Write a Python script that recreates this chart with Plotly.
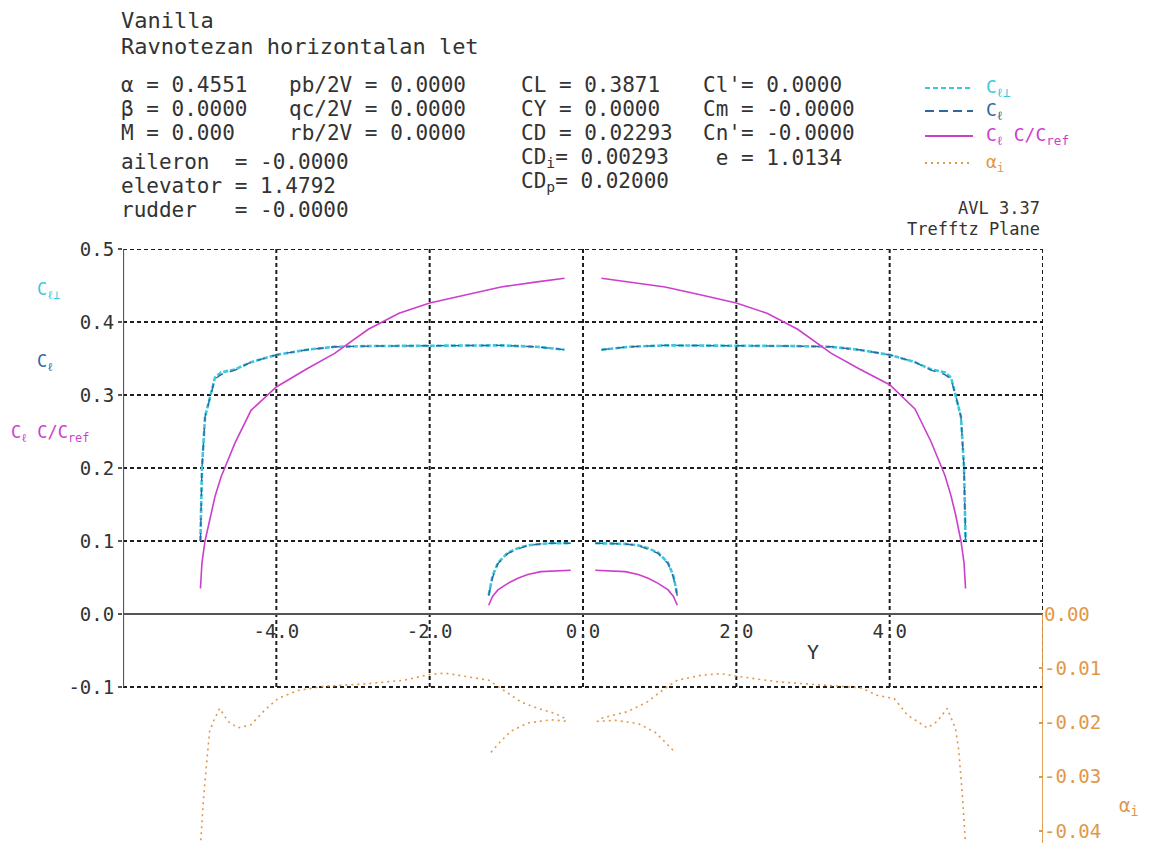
"""AVL Trefftz plane plot: spanwise loading of wing and horizontal tail."""

import plotly.graph_objects as go

# --- data (spanwise station Y, values) --------------------------------------
WING_Y_LEFT = [-4.99, -4.97, -4.93, -4.86, -4.80, -4.72, -4.54, -4.33, -4.00,
               -3.60, -3.24, -2.80, -2.40, -2.00, -1.50, -1.07, -0.60, -0.24]
WING_Y_RIGHT = [0.24, 0.60, 1.07, 1.50, 2.00, 2.40, 2.80, 3.24, 3.60,
                4.00, 4.33, 4.54, 4.72, 4.80, 4.86, 4.93, 4.97, 4.99]
TAIL_Y_LEFT = [-1.23, -1.18, -1.11, -0.98, -0.85, -0.72, -0.55, -0.42, -0.16]
TAIL_Y_RIGHT = [0.16, 0.42, 0.55, 0.72, 0.85, 0.98, 1.11, 1.18, 1.23]

CL_PERP_WING_LEFT = [0.100, 0.200, 0.270, 0.300, 0.324, 0.331, 0.335, 0.345, 0.355,
                     0.362, 0.366, 0.367, 0.367, 0.368, 0.368, 0.368, 0.366, 0.362]
CL_PERP_WING_RIGHT = [0.362, 0.366, 0.368, 0.368, 0.368, 0.367, 0.367, 0.366, 0.362,
                      0.355, 0.345, 0.335, 0.331, 0.324, 0.300, 0.270, 0.200, 0.100]
CL_WING_LEFT = [0.100, 0.200, 0.270, 0.300, 0.322, 0.328, 0.334, 0.345, 0.355,
                0.362, 0.366, 0.367, 0.367, 0.368, 0.368, 0.368, 0.366, 0.362]
CL_WING_RIGHT = [0.362, 0.366, 0.368, 0.368, 0.368, 0.367, 0.367, 0.366, 0.362,
                 0.355, 0.345, 0.334, 0.328, 0.322, 0.300, 0.270, 0.200, 0.100]
CCREF_WING_LEFT = [0.035, 0.070, 0.100, 0.135, 0.161, 0.188, 0.234, 0.279, 0.311,
                   0.336, 0.357, 0.390, 0.412, 0.426, 0.438, 0.448, 0.455, 0.460]
CCREF_WING_RIGHT = [0.460, 0.455, 0.448, 0.438, 0.426, 0.412, 0.390, 0.357, 0.336,
                    0.314, 0.281, 0.236, 0.190, 0.162, 0.136, 0.100, 0.070, 0.035]

CL_PERP_TAIL_LEFT = [0.026, 0.052, 0.070, 0.084, 0.090, 0.094, 0.096, 0.097, 0.097]
CL_PERP_TAIL_RIGHT = [0.097, 0.097, 0.096, 0.094, 0.090, 0.084, 0.070, 0.052, 0.026]
CL_TAIL_LEFT = [0.025, 0.050, 0.069, 0.083, 0.089, 0.094, 0.096, 0.097, 0.097]
CL_TAIL_RIGHT = [0.097, 0.097, 0.096, 0.094, 0.089, 0.083, 0.069, 0.050, 0.025]
CCREF_TAIL_LEFT = [0.012, 0.024, 0.033, 0.042, 0.049, 0.054, 0.058, 0.059, 0.060]
CCREF_TAIL_RIGHT = [0.060, 0.059, 0.058, 0.054, 0.049, 0.042, 0.033, 0.024, 0.012]

AI_WING_Y_LEFT = [-5.00, -4.95, -4.91, -4.87, -4.82, -4.74, -4.63, -4.50, -4.33,
                  -4.15, -3.98, -3.72, -3.37, -2.85, -2.33, -2.02, -1.80, -1.50,
                  -1.23, -1.03, -0.81, -0.59, -0.37, -0.24]
AI_WING_LEFT = [-0.0450, -0.0340, -0.0276, -0.0216, -0.0198, -0.0174, -0.0198, -0.0210,
                -0.0204, -0.0177, -0.0156, -0.0141, -0.0133, -0.0129, -0.0122, -0.0112,
                -0.0109, -0.0116, -0.0122, -0.0141, -0.0162, -0.0174, -0.0183, -0.0192]
AI_WING_Y_RIGHT = [0.24, 0.58, 0.84, 1.06, 1.23, 1.54, 1.80, 2.02, 2.54, 3.19, 3.62,
                   3.84, 4.06, 4.23, 4.49, 4.62, 4.75, 4.82, 4.86, 4.90, 4.95, 5.00]
AI_WING_RIGHT = [-0.0192, -0.0180, -0.0162, -0.0138, -0.0122, -0.0113, -0.0110, -0.0115,
                 -0.0125, -0.0131, -0.0136, -0.0150, -0.0156, -0.0186, -0.0210, -0.0198,
                 -0.0174, -0.0198, -0.0212, -0.0250, -0.0337, -0.0450]
AI_TAIL_Y_LEFT = [-1.20, -1.07, -0.94, -0.72, -0.42, -0.18]
AI_TAIL_LEFT = [-0.0255, -0.0234, -0.0216, -0.0201, -0.0195, -0.0198]
AI_TAIL_Y_RIGHT = [0.18, 0.42, 0.72, 0.94, 1.07, 1.20]
AI_TAIL_RIGHT = [-0.0198, -0.0196, -0.0202, -0.0218, -0.0236, -0.0255]

X_TICKS = [-4.0, -2.0, 0.0, 2.0, 4.0]
X_GRID = [-4.0, -2.0, 0.0, 2.0, 4.0, 6.0]
Y_TICKS = [0.5, 0.4, 0.3, 0.2, 0.1, 0.0, -0.1]
AI_TICKS = [0.0, -0.01, -0.02, -0.03, -0.04]

HEADER_LEFT = ["α = 0.4551", "β = 0.0000", "M = 0.000"]
HEADER_RATES = ["pb/2V = 0.0000", "qc/2V = 0.0000", "rb/2V = 0.0000"]
HEADER_CONTROLS = ["aileron  = -0.0000", "elevator = 1.4792", "rudder   = -0.0000"]
HEADER_FORCES = ["CL = 0.3871", "CY = 0.0000", "CD = 0.02293",
                 "CD<sub>i</sub>= 0.00293", "CD<sub>p</sub>= 0.02000"]
HEADER_MOMENTS = ["Cl'= 0.0000", "Cm = -0.0000", "Cn'= -0.0000", " e = 1.0134"]

# --- style -----------------------------------------------------------------
FONT = "DejaVu Sans Mono"
CYAN = "#3cc8dc"
BLUE = "#2a6aa0"
MAGENTA = "#cc3fcc"
ORANGE = "#e0984a"
INK = "#333333"
GRID = "#1e1e1e"

W, H = 1150, 843
BODY_PAD = 8  # default page margin around the plot div
PLOT_L, PLOT_R, PLOT_T, PLOT_B = 123, 1043, 249, 843  # wanted, in screenshot pixels
X_RANGE = [-6.0, 6.0]
Y_RANGE = [-0.3137, 0.5]
AI_RANGE = [-0.04221, 0.06728]

ROWS_TOP = [85, 109, 133]
ROWS_CONTROLS = [162, 186, 210]
ROWS_FORCES = [85, 109, 133, 158, 182]


def _join(*segments):
    """Concatenate segments with None gaps so one trace draws them apart."""
    out = []
    for i, seg in enumerate(segments):
        if i:
            out.append(None)
        out.extend(seg)
    return out


def _paper(px, py):
    return (px - PLOT_L) / (PLOT_R - PLOT_L), (PLOT_B - py) / (PLOT_B - PLOT_T)


def _text(fig, px, py, text, size=21, color=INK, anchor="left"):
    x, y = _paper(px, py)
    fig.add_annotation(
        x=x, y=y, xref="paper", yref="paper", text=text, showarrow=False,
        xanchor=anchor, yanchor="middle", borderpad=0,
        font={"family": FONT, "size": size, "color": color},
    )


def _paper_line(fig, x0, x1, py, color, dash, width=1.8):
    a, y = _paper(x0, py)
    b, _ = _paper(x1, py)
    fig.add_shape(type="line", xref="paper", yref="paper", x0=a, x1=b, y0=y, y1=y,
                  line={"color": color, "dash": dash, "width": width})


fig = go.Figure()

wing_y = _join(WING_Y_LEFT, WING_Y_RIGHT, TAIL_Y_LEFT, TAIL_Y_RIGHT)

fig.add_trace(go.Scatter(
    x=wing_y, y=_join(CL_PERP_WING_LEFT, CL_PERP_WING_RIGHT, CL_PERP_TAIL_LEFT, CL_PERP_TAIL_RIGHT),
    mode="lines", name="Cl perp", line={"color": CYAN, "width": 2.6, "dash": "5px,2px"},
))
fig.add_trace(go.Scatter(
    x=wing_y, y=_join(CL_WING_LEFT, CL_WING_RIGHT, CL_TAIL_LEFT, CL_TAIL_RIGHT),
    mode="lines", name="Cl", line={"color": BLUE, "width": 1.4, "dash": "8px,7px"},
))
fig.add_trace(go.Scatter(
    x=wing_y, y=_join(CCREF_WING_LEFT, CCREF_WING_RIGHT, CCREF_TAIL_LEFT, CCREF_TAIL_RIGHT),
    mode="lines", name="Cl c/cref", line={"color": MAGENTA, "width": 1.6},
))
fig.add_trace(go.Scatter(
    x=_join(AI_WING_Y_LEFT, AI_WING_Y_RIGHT, AI_TAIL_Y_LEFT, AI_TAIL_Y_RIGHT),
    y=_join(AI_WING_LEFT, AI_WING_RIGHT, AI_TAIL_LEFT, AI_TAIL_RIGHT),
    mode="lines", name="alpha_i", yaxis="y2",
    line={"color": ORANGE, "width": 1.6, "dash": "2px,4px"},
))

# grid: dashed, limited to the Cl part of the frame
y_low, y_high = min(Y_TICKS), max(Y_TICKS)
for xv in X_GRID:
    fig.add_shape(type="line", xref="x", yref="y", x0=xv, x1=xv, y0=y_low, y1=y_high,
                  line={"color": GRID, "width": 2, "dash": "4px,3px"}, layer="below")
for yv in Y_TICKS:
    if yv == 0:
        continue
    fig.add_shape(type="line", xref="x", yref="y", x0=X_RANGE[0], x1=X_RANGE[1], y0=yv, y1=yv,
                  line={"color": GRID, "width": 2, "dash": "4px,3px"}, layer="below")
# zero line and left axis
fig.add_shape(type="line", xref="x", yref="y", x0=X_RANGE[0], x1=X_RANGE[1], y0=0, y1=0,
              line={"color": "#555555", "width": 2.2})
fig.add_shape(type="line", xref="x", yref="y", x0=X_RANGE[0], x1=X_RANGE[0], y0=y_low, y1=y_high,
              line={"color": "#555555", "width": 2.2})
# alpha_i axis on the right
fig.add_shape(type="line", xref="x", yref="y2", x0=X_RANGE[1], x1=X_RANGE[1],
              y0=max(AI_TICKS), y1=AI_RANGE[0], line={"color": ORANGE, "width": 1.8})

# header block
_text(fig, 120, 21, "Vanilla", size=22)
_text(fig, 120, 46, "Ravnotezan horizontalan let", size=22)
for label, py in zip(HEADER_LEFT, ROWS_TOP):
    _text(fig, 120, py, label)
for label, py in zip(HEADER_RATES, ROWS_TOP):
    _text(fig, 288, py, label)
for label, py in zip(HEADER_CONTROLS, ROWS_CONTROLS):
    _text(fig, 120, py, label)
for label, py in zip(HEADER_FORCES, ROWS_FORCES):
    _text(fig, 520, py, label)
for label, py in zip(HEADER_MOMENTS, ROWS_FORCES):
    _text(fig, 702, py, label)

# legend block
_paper_line(fig, 925, 973, 88, CYAN, "5px,3px", 2)
_paper_line(fig, 925, 973, 111, BLUE, "9px,5px")
_paper_line(fig, 925, 973, 136, MAGENTA, "solid")
_paper_line(fig, 925, 973, 163, ORANGE, "2px,4px")
_text(fig, 985, 88, "C<sub>ℓ⊥</sub>", size=18, color=CYAN)
_text(fig, 985, 111, "C<sub>ℓ</sub>", size=18, color=BLUE)
_text(fig, 985, 136, "C<sub>ℓ</sub> C/C<sub>ref</sub>", size=18, color=MAGENTA)
_text(fig, 985, 163, "α<sub>i</sub>", size=18, color=ORANGE)
_text(fig, 1041, 208, "AVL 3.37", size=17, anchor="right")
_text(fig, 1041, 229, "Trefftz Plane", size=17, anchor="right")

# axis side labels
_text(fig, 36, 290, "C<sub>ℓ⊥</sub>", size=17, color=CYAN)
_text(fig, 36, 362, "C<sub>ℓ</sub>", size=17, color=BLUE)
_text(fig, 10, 433, "C<sub>ℓ</sub> C/C<sub>ref</sub>", size=17, color=MAGENTA)
_text(fig, 806, 652, "Y", size=20)
_text(fig, 1118, 806, "α<sub>i</sub>", size=19, color=ORANGE)

x_axis_pos = (0 - Y_RANGE[0]) / (Y_RANGE[1] - Y_RANGE[0])

fig.update_layout(
    width=W, height=H,
    margin={"l": PLOT_L - BODY_PAD, "r": W - PLOT_R + BODY_PAD,
            "t": PLOT_T - BODY_PAD, "b": H - PLOT_B + BODY_PAD},
    paper_bgcolor="white", plot_bgcolor="white",
    showlegend=False,
    font={"family": FONT, "color": INK},
    xaxis={
        "range": X_RANGE, "showgrid": False, "zeroline": False, "showline": False,
        "tickvals": X_TICKS, "ticktext": [f"{v:.1f}" for v in X_TICKS],
        "ticks": "", "tickfont": {"size": 19, "color": INK}, "ticklabelstandoff": 4,
        "anchor": "free", "position": x_axis_pos, "automargin": False,
    },
    yaxis={
        "range": Y_RANGE, "showgrid": False, "zeroline": False, "showline": False,
        "tickvals": Y_TICKS, "ticktext": [f"{v:.1f}" for v in Y_TICKS],
        "ticks": "outside", "ticklen": 4, "tickcolor": "#555555", "tickwidth": 2,
        "tickfont": {"size": 19, "color": INK}, "automargin": False,
    },
    yaxis2={
        "range": AI_RANGE, "overlaying": "y", "side": "right",
        "showgrid": False, "zeroline": False, "showline": False,
        "tickvals": AI_TICKS, "ticktext": [f"{v:.2f}" for v in AI_TICKS],
        "ticks": "inside", "ticklen": 4, "tickcolor": ORANGE, "tickwidth": 1.5,
        "tickfont": {"size": 19, "color": ORANGE}, "automargin": False,
    },
)

fig.write_html("out.html")
